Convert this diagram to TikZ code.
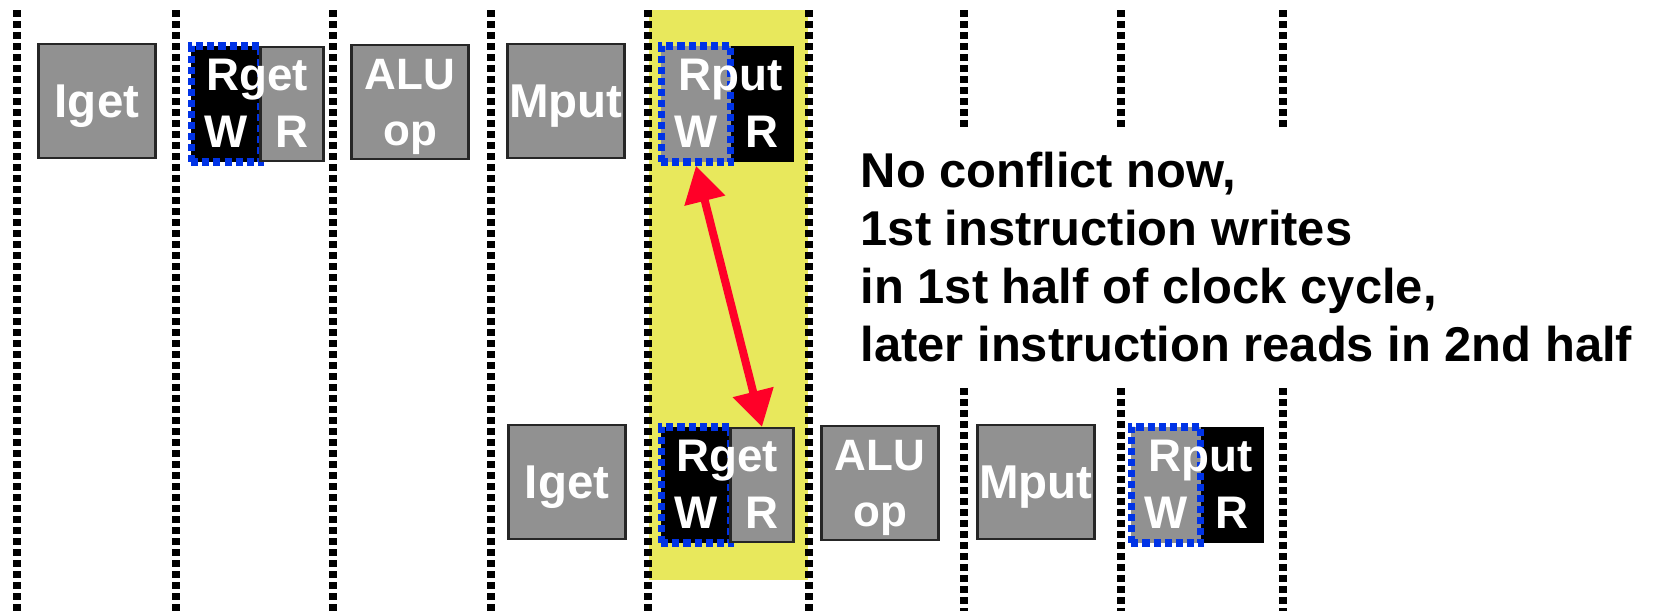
\documentclass[tikz,border=0pt]{standalone}
\usepackage{fontspec}
\setmainfont{Liberation Sans}
\usetikzlibrary{arrows.meta}

\definecolor{bandyellow}{RGB}{232,232,92}
\definecolor{stagegray}{RGB}{145,145,145}
\definecolor{wblue}{RGB}{0,51,230}
\definecolor{arrowred}{RGB}{255,0,40}

\tikzset{
    cycleline/.style={line width=0.075cm, dash pattern=on 0.07cm off 0.04cm},
    stage/.style={draw=black!85, line width=0.6pt, fill=stagegray, inner sep=0pt,
                  minimum width=1.17cm, minimum height=1.14cm, text=white, align=center,
                  text depth=0pt, font=\bfseries\fontsize{13.5}{16}\selectfont},
    halfbox/.style={inner sep=0pt, minimum height=1.16cm},
    wpart/.style={halfbox, minimum width=0.69cm, draw=wblue, line width=0.075cm,
                  dash pattern=on 0.07cm off 0.04cm},
    rpart/.style={halfbox, minimum width=0.63cm},
    lbl/.style={text=white, inner sep=0pt, font=\bfseries\fontsize{13}{16}\selectfont},
}

\begin{document}
\begin{tikzpicture}[x=0.01cm, y=-0.01cm]
    \useasboundingbox (0,0) rectangle (1654,611);

    % Shared clock cycle
    \fill[bandyellow] (649,10) rectangle (808,580);

    % Cycle boundaries
    \foreach \x in {17,176,333,491,648,809}
        \draw[cycleline] (\x,10) -- (\x,611);
    \foreach \x in {964,1121,1283} {
        \draw[cycleline] (\x,10) -- (\x,128);
        \draw[cycleline] (\x,388) -- (\x,611);
    }

    % The two instructions, the second three cycles later
    \foreach \row/\dx/\dy in {top/0/0, bot/470/381} {
        \begin{scope}[shift={(\dx,\dy)}]
            \node[stage] (\row I) at (97,101) {Iget};

            \node[wpart, fill=black] (\row Gw) at (226,104) {};
            \node[rpart, fill=stagegray, draw=black!85, line width=0.6pt,
                  minimum height=1.14cm] (\row Gr) at (292,104) {};
            \node[lbl, anchor=base] (\row Gt) at (257,90) {Rget};
            \node[lbl, anchor=base] (\row Gwl) at (226,147) {W};
            \node[lbl, anchor=base] (\row Grl) at (292,147) {R};

            \node[stage, font=\bfseries\fontsize{12.5}{16}\selectfont] (\row A) at (410,102) {ALU\\op};

            \node[stage] (\row M) at (566,101) {Mput};

            \node[rpart, fill=black] (\row Pr) at (762,104) {};
            \node[wpart, fill=stagegray] (\row Pw) at (696,104) {};
            \node[lbl, anchor=base] (\row Pt) at (731,90) {Rput};
            \node[lbl, anchor=base] (\row Pwl) at (696,147) {W};
            \node[lbl, anchor=base] (\row Prl) at (762,147) {R};
        \end{scope}
    }

    % Write and read in the same cycle
    \draw[arrowred, line width=0.08cm,
          {Triangle[length=0.36cm,width=0.4cm]}-{Triangle[length=0.36cm,width=0.4cm]}]
        (topPw.south) -- (botGr.north);

    % Explanation
    \node[anchor=base west, align=left, inner sep=0pt,
          font=\bfseries\fontsize{13.9}{16.4}\selectfont] (note) at (860,361)
        {No conflict now,\\1st instruction writes\\in 1st half of clock cycle,\\later instruction reads in 2nd half};

\end{tikzpicture}
\end{document}
